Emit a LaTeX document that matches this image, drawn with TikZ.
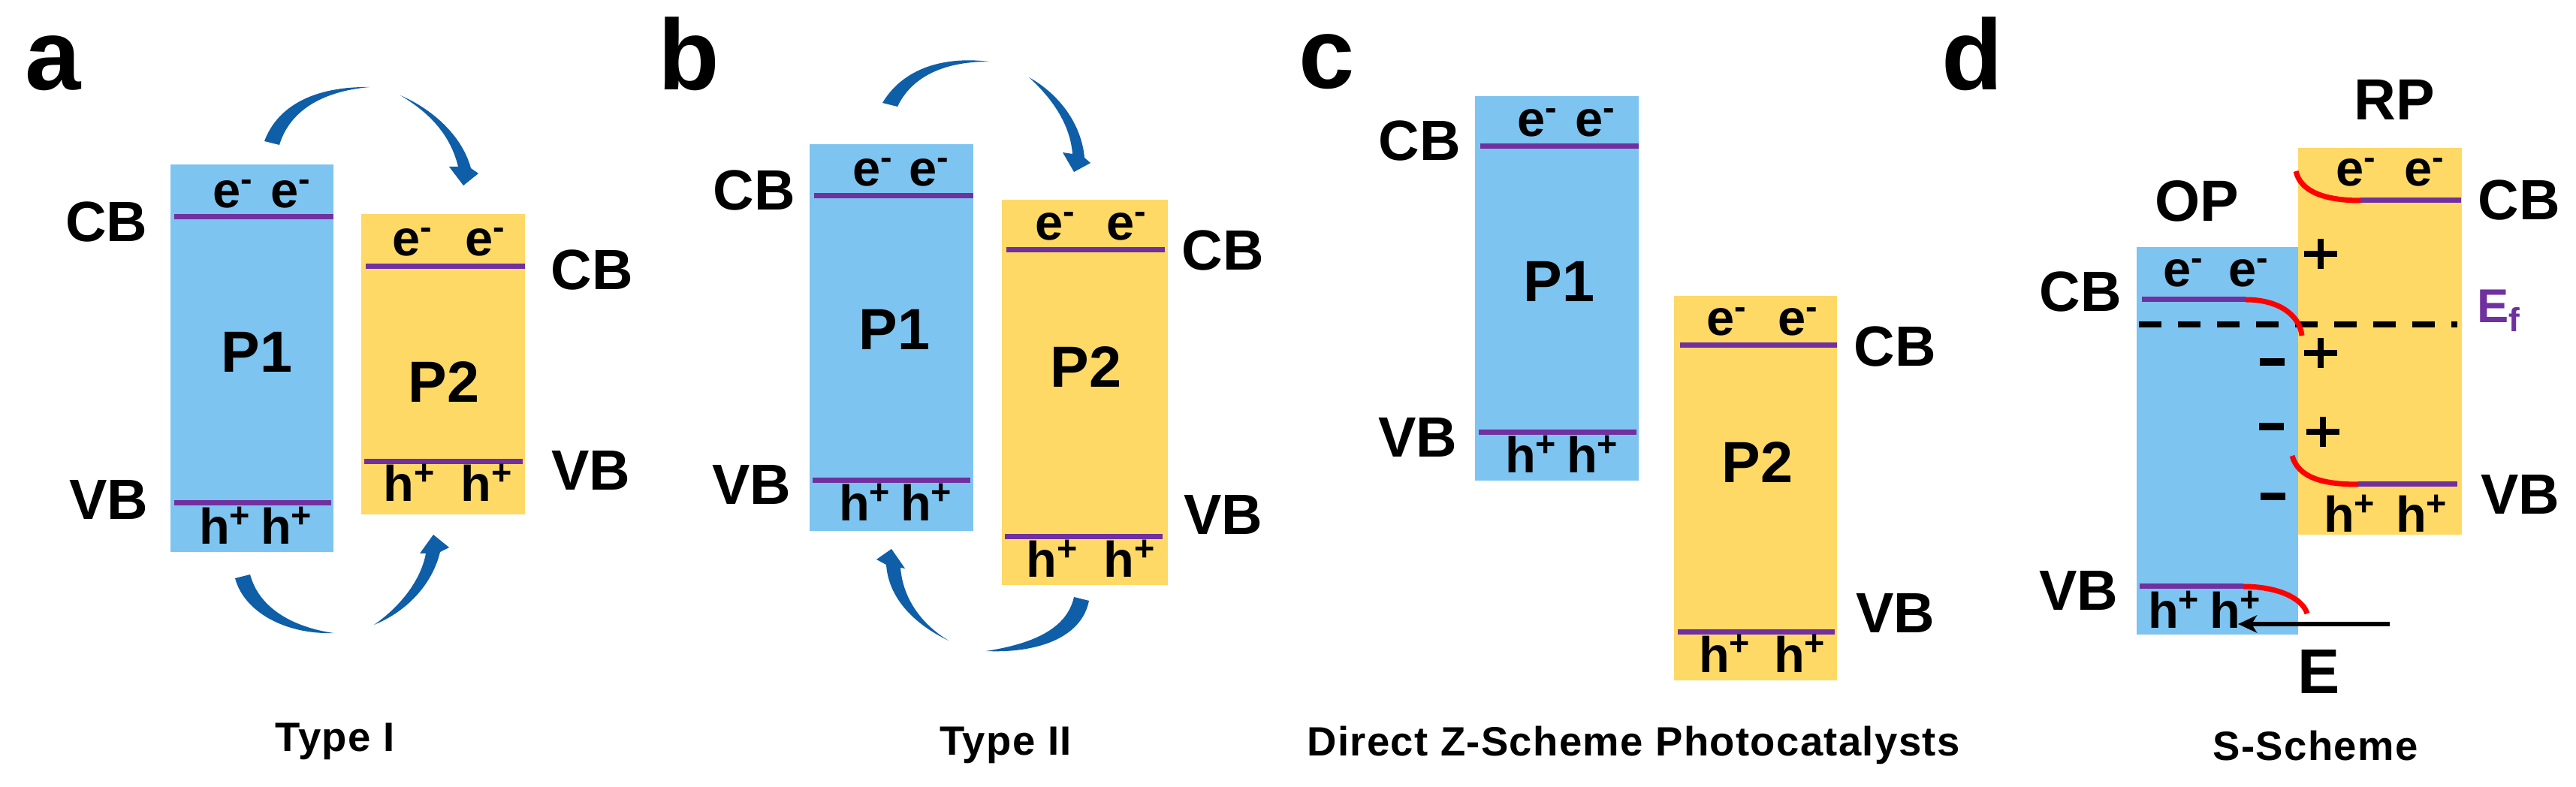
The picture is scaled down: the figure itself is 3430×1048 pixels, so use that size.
\documentclass[tikz,border=0pt]{standalone}
\usepackage{fontspec}
\setmainfont{Liberation Sans}
\newfontfamily\capfont[LetterSpace=2.5]{Liberation Sans}
\usetikzlibrary{arrows.meta}
\definecolor{boxblue}{RGB}{125,196,240}
\definecolor{boxyellow}{RGB}{255,217,102}
\definecolor{lvlpurple}{RGB}{112,48,160}
\definecolor{swooshblue}{RGB}{14,94,168}
\newcommand{\eel}[1]{e\textsuperscript{-}\hspace{#1}e\textsuperscript{-}}
\newcommand{\hhl}[1]{h\textsuperscript{+}\hspace{#1}h\textsuperscript{+}}
\tikzset{
  bandlbl/.style={font=\fontsize{21.5}{24}\selectfont\bfseries, inner sep=0pt, anchor=base},
  plbl/.style={font=\fontsize{22}{26}\selectfont\bfseries, inner sep=0pt, anchor=base},
  carrier/.style={font=\fontsize{19}{22}\selectfont\bfseries, inner sep=0pt, anchor=base},
  panellbl/.style={font=\fontsize{38}{44}\selectfont\bfseries, inner sep=0pt, anchor=base west},
  captxt/.style={font=\capfont\fontsize{15.5}{18}\selectfont\bfseries, inner sep=0pt, anchor=base},
  bandline/.style={draw=lvlpurple, line width=0.7mm},
  bentline/.style={draw=red, line width=0.7mm},
  swoosh/.style={fill=swooshblue, draw=none},
  bluebox/.style={fill=boxblue},
  yellowbox/.style={fill=boxyellow},
  chargebar/.style={draw=black, line width=0.95mm},
  plusbar/.style={draw=black, line width=0.8mm},
}
\begin{document}
\begin{tikzpicture}[x=0.1mm, y=-0.1mm]
\useasboundingbox (0,0) rectangle (3430,1048);
\fill[white] (0,0) rectangle (3430,1048);

%================ Panel a =================
\node[panellbl] (la) at (33,120) {a};
\fill[bluebox] (227,219) rectangle (444,735);
\fill[yellowbox] (481,285) rectangle (699,685);
\draw[bandline] (232,289) -- (444,289);
\draw[bandline] (232,670) -- (441,670);
\draw[bandline] (487,355) -- (699,355);
\draw[bandline] (485,615) -- (696,615);
\node[carrier] (aE1) at (349,277) {\eel{2.2mm}};
\node[carrier] (aE2) at (598,341) {\eel{4.2mm}};
\node[carrier] (aH1) at (341,725) {\hhl{1.2mm}};
\node[carrier] (aH2) at (597,668) {\hhl{3.3mm}};
\node[plbl] (aP1) at (342,496) {P1};
\node[plbl] (aP2) at (591,536) {P2};
\node[bandlbl] (aCBl) at (142,322) {CB};
\node[bandlbl] (aVBl) at (145,692) {VB};
\node[bandlbl] (aCBr) at (788,386) {CB};
\node[bandlbl] (aVBr) at (787,653) {VB};
\node[captxt] (aCap) at (446,1000) {Type I};
% swooshes
\fill[swoosh] (352,188) .. controls (370,140) and (420,115) .. (492,116)
   .. controls (425,122) and (385,150) .. (372,193) -- cycle;
\fill[swoosh] (533,127) .. controls (575,145) and (615,180) .. (627,224)
   -- (637,231) -- (617,247) -- (598,222) -- (610,222)
   .. controls (600,180) and (572,150) .. (533,127) -- cycle;
\fill[swoosh] (313,770) .. controls (325,815) and (380,845) .. (444,843)
   .. controls (390,835) and (345,810) .. (333,765) -- cycle;
\fill[swoosh] (498,832) .. controls (540,815) and (575,780) .. (586,735)
   -- (598,729) -- (577,712) -- (559,737) -- (567,737)
   .. controls (560,775) and (530,810) .. (498,832) -- cycle;

%================ Panel b =================
\node[panellbl] (lb) at (876,120) {b};
\fill[bluebox] (1078,192) rectangle (1296,707);
\fill[yellowbox] (1334,266) rectangle (1555,779);
\draw[bandline] (1084,261) -- (1296,261);
\draw[bandline] (1082,640) -- (1292,640);
\draw[bandline] (1340,333) -- (1551,333);
\draw[bandline] (1338,715) -- (1548,715);
\node[carrier] (bE1) at (1200,248) {\eel{2mm}};
\node[carrier] (bE2) at (1453,320) {\eel{4mm}};
\node[carrier] (bH1) at (1193,694) {\hhl{1.2mm}};
\node[carrier] (bH2) at (1453,769) {\hhl{3.3mm}};
\node[plbl] (bP1) at (1191,466) {P1};
\node[plbl] (bP2) at (1446,516) {P2};
\node[bandlbl] (bCBl) at (1004,280) {CB};
\node[bandlbl] (bVBl) at (1001,672) {VB};
\node[bandlbl] (bCBr) at (1628,360) {CB};
\node[bandlbl] (bVBr) at (1629,712) {VB};
\node[captxt] (bCap) at (1339,1005) {Type II};
\fill[swoosh] (1175,137) .. controls (1200,95) and (1250,74) .. (1317,82)
   .. controls (1260,82) and (1215,100) .. (1195,142) -- cycle;
\fill[swoosh] (1370,103) .. controls (1410,125) and (1440,165) .. (1444,210)
   -- (1452,217) -- (1430,229) -- (1415,203) -- (1428,205)
   .. controls (1425,165) and (1400,130) .. (1370,103) -- cycle;
\fill[swoosh] (1450,800) .. controls (1440,850) and (1380,870) .. (1313,867)
   .. controls (1370,858) and (1420,840) .. (1430,795) -- cycle;
\fill[swoosh] (1263,853) .. controls (1215,830) and (1183,795) .. (1180,752)
   -- (1167,745) -- (1187,731) -- (1205,757) -- (1199,756)
   .. controls (1202,795) and (1225,830) .. (1263,853) -- cycle;

%================ Panel c =================
\node[panellbl] (lc) at (1729,118) {c};
\fill[bluebox] (1964,128) rectangle (2182,640);
\fill[yellowbox] (2229,394) rectangle (2446,906);
\draw[bandline] (1971,195) -- (2182,195);
\draw[bandline] (1969,576) -- (2179,576);
\draw[bandline] (2237,460) -- (2446,460);
\draw[bandline] (2234,841) -- (2443,841);
\node[carrier] (cE1) at (2086,182) {\eel{2.2mm}};
\node[carrier] (cE2) at (2347,447) {\eel{4mm}};
\node[carrier] (cH1) at (2080,630) {\hhl{1.2mm}};
\node[carrier] (cH2) at (2347,895) {\hhl{3mm}};
\node[plbl] (cP1) at (2076,402) {P1};
\node[plbl] (cP2) at (2340,643) {P2};
\node[bandlbl] (cCBl) at (1890,214) {CB};
\node[bandlbl] (cVBl) at (1888,609) {VB};
\node[bandlbl] (cCBr) at (2523,488) {CB};
\node[bandlbl] (cVBr) at (2524,843) {VB};
\node[captxt] (cCap) at (2175,1006) {Direct Z-Scheme Photocatalysts};

%================ Panel d =================
\node[panellbl] (ld) at (2585,120) {d};
\fill[bluebox] (2845,329) rectangle (3060,845);
\fill[yellowbox] (3060,197) rectangle (3278,712);
\node[plbl] (dOP) at (2925,295) {OP};
\node[plbl] (dRP) at (3188,160) {RP};
% Fermi level
\draw[line width=0.8mm, dash pattern=on 3mm off 2.2mm] (2848,432) -- (3272,432);
% OP bands
\draw[bandline] (2852,399) -- (2990,399);
\draw[bentline] (2990,399) .. controls (3035,399) and (3062,420) .. (3065,447);
\draw[bandline] (2849,781) -- (2987,781);
\draw[bentline] (2987,781) .. controls (3030,781) and (3065,795) .. (3072,817);
% RP bands
\draw[bandline] (3143,267) -- (3277,267);
\draw[bentline] (3057,228) .. controls (3063,255) and (3095,267) .. (3143,267);
\draw[bandline] (3140,645) -- (3272,645);
\draw[bentline] (3052,607) .. controls (3060,635) and (3090,645) .. (3140,645);
% carriers
\node[carrier] (dE1) at (2951,382) {\eel{3.2mm}};
\node[carrier] (dE2) at (3183,248) {\eel{3.7mm}};
\node[carrier] (dH1) at (2936,837) {\hhl{1.2mm}};
\node[carrier] (dH2) at (3177,709) {\hhl{2.6mm}};
% space charges
\draw[chargebar] (3009,482) -- (3042,482);
\draw[chargebar] (3008,568) -- (3041,568);
\draw[chargebar] (3010,661) -- (3043,661);
\draw[plusbar] (3068,338) -- (3112,338) (3090,318) -- (3090,358);
\draw[plusbar] (3068,470) -- (3112,470) (3090,450) -- (3090,490);
\draw[plusbar] (3071,575) -- (3115,575) (3093,555) -- (3093,595);
% labels
\node[bandlbl] (dCBl) at (2770,415) {CB};
\node[bandlbl] (dVBl) at (2768,812) {VB};
\node[bandlbl] (dCBr) at (3354,293) {CB};
\node[bandlbl] (dVBr) at (3356,685) {VB};
\node[font=\fontsize{18}{21}\selectfont\bfseries, text=lvlpurple, inner sep=0pt, anchor=base west] (dEf) at (3298,430) {E\textsubscript{f}};
% internal electric field
\coordinate (eStart) at (3182,831);
\coordinate (eEnd) at (2980,831);
\draw[line width=0.6mm, -{Stealth[length=2.5mm, width=2.3mm, inset=0.7mm]}] (eStart) -- (eEnd);
\node[font=\fontsize{24}{28}\selectfont\bfseries, inner sep=0pt, anchor=base] (dE) at (3088,923) {E};
\node[captxt] (dCap) at (3083,1012) {S-Scheme};
\end{tikzpicture}
\end{document}
